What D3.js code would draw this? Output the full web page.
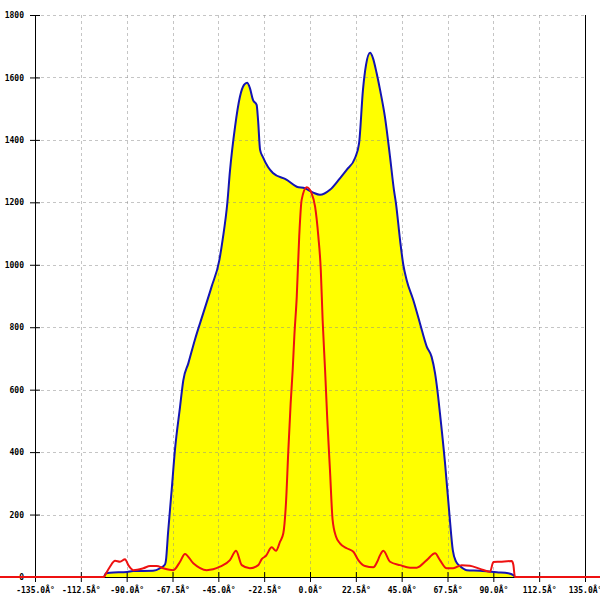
<!DOCTYPE html>
<html>
<head>
<meta charset="utf-8">
<script src="https://cdn.jsdelivr.net/npm/d3@7"></script>
<style>
  html, body { margin: 0; padding: 0; background: #fff; }
  svg { display: block; }
  text { font-family: "DejaVu Sans Mono", monospace; font-size: 8px; font-weight: bold; fill: #000; }
</style>
</head>
<body>
<div id="chart"></div>
<script>
// Angle (degrees) and intensity for the blue (filled) series
const blueAngles = [-101.1,-100.1,-98.2,-89.8,-86.9,-77.1,-73.6,-71.2,-70.7,-69.7,-67.9,-66.3,-63.8,-62.2,-59.7,-56.5,-52.4,-48.3,-44.5,-42.9,-40.6,-39.3,-36.8,-34.4,-32.4,-30.9,-29.5,-28.0,-26.2,-25.5,-24.5,-23.1,-20.6,-18.2,-11.4,-6.5,-2.5,1.6,4.9,9.8,14.7,18.0,22.1,24.1,26.0,27.5,29.5,30.9,32.7,34.4,36.8,39.3,41.2,42.2,44.2,45.8,47.5,50.7,54.0,57.3,59.7,61.4,62.5,63.8,66.3,68.4,70.1,71.7,73.6,76.9,83.5,88.4,91.7,97.3,99.8,100.6];
const blueValues = [0,12,14,16,19,20,28,40,54,140,279,407,545,630,685,760,845,930,1015,1080,1197,1300,1442,1538,1576,1583,1566,1528,1512,1464,1368,1345,1313,1294,1272,1250,1245,1231,1224,1240,1277,1304,1342,1390,1560,1640,1679,1662,1614,1560,1473,1345,1240,1197,1080,1000,950,887,812,738,705,652,600,524,364,204,86,49,35,22,20,17,15,12,6,0];

// Angle (degrees) and intensity for the red series
const redAngles = [-180,-101.1,-100.6,-98.2,-95.7,-93.3,-90.8,-89.2,-86.7,-81.8,-78.5,-75.3,-72.0,-67.1,-63.8,-61.4,-57.3,-50.7,-44.2,-39.3,-36.3,-33.5,-29.5,-25.4,-23.7,-21.6,-18.8,-16.7,-14.7,-13.1,-11.8,-10.7,-9.5,-8.5,-7.7,-6.5,-5.3,-4.1,-1.6,0.8,2.5,4.1,5.3,6.2,7.4,8.5,9.8,11.1,12.8,14.7,18.0,21.3,23.7,27.0,31.1,33.0,34.4,36.0,39.3,44.2,49.1,52.4,57.3,61.4,63.8,67.1,70.3,74.5,78.5,83.5,88.4,90.0,93.3,99.0,99.8,100.6,180];
const redValues = [0,0,6,33,52,49,57,38,22,28,35,35,28,22,49,74,44,22,33,54,84,38,28,38,57,68,95,84,113,140,236,396,556,663,770,898,1090,1208,1248,1229,1186,1090,983,823,663,503,343,183,129,108,92,81,54,35,31,49,70,84,49,38,30,30,54,76,54,28,28,38,36,26,17,48,49,51,40,0,0];

const xTicks = [-135,-112.5,-90,-67.5,-45,-22.5,0,22.5,45,67.5,90,112.5,135];
const yTicks = [0,200,400,600,800,1000,1200,1400,1600,1800];

const W = 600, H = 600;
const svg = d3.select("#chart").append("svg").attr("width", W).attr("height", H);

const x = d3.scaleLinear().domain([-135, 135]).range([35, 585]);
const y = d3.scaleLinear().domain([0, 1800]).range([577, 15]);

const blue = blueAngles.map((a, i) => ({a, v: blueValues[i]}));
const red = redAngles.map((a, i) => ({a, v: redValues[i]}));

// fill
svg.append("path").datum(blue)
  .attr("fill", "#ffff00")
  .attr("d", d3.area().x(d => x(d.a)).y0(y(0)).y1(d => y(d.v)).curve(d3.curveMonotoneX));

// grid
const grid = svg.append("g").attr("stroke", "rgba(140,140,140,0.5)").attr("stroke-dasharray", "3,3").attr("stroke-width", 1);
xTicks.slice(1, -1).forEach(t => {
  grid.append("line").attr("x1", Math.round(x(t)) + 0.5).attr("x2", Math.round(x(t)) + 0.5).attr("y1", y(1800)).attr("y2", y(0));
});
yTicks.slice(1).forEach(t => {
  grid.append("line").attr("x1", x(-135)).attr("x2", x(135)).attr("y1", Math.round(y(t)) + 0.5).attr("y2", Math.round(y(t)) + 0.5);
});

// x axis
const xAxisG = svg.append("g").attr("transform", `translate(0,${y(0)})`)
  .call(d3.axisBottom(x).tickValues(xTicks).tickSize(5).tickPadding(5)
    .tickFormat(d => d.toFixed(1) + "Â°"));
xAxisG.select(".domain").remove();
xAxisG.selectAll(".tick line").attr("y1", -5).attr("stroke", "#000");
xAxisG.selectAll("text").attr("font-size", 8).attr("font-family", "DejaVu Sans Mono").attr("font-weight", "bold").attr("fill", "#000");
svg.append("line").attr("x1", x(-135)).attr("x2", x(135)).attr("y1", y(0) + 0.5).attr("y2", y(0) + 0.5).attr("stroke", "#000");

// y axis
const yAxisG = svg.append("g").attr("transform", `translate(${x(-135)},0)`)
  .call(d3.axisLeft(y).tickValues(yTicks).tickSize(5).tickPadding(6).tickFormat(d3.format("d")));
yAxisG.select(".domain").remove();
yAxisG.selectAll(".tick line").attr("x1", 5).attr("stroke", "#000");
yAxisG.selectAll("text").attr("font-size", 8).attr("font-family", "DejaVu Sans Mono").attr("font-weight", "bold").attr("fill", "#000");

svg.append("line").attr("x1", x(-135) + 0.5).attr("x2", x(-135) + 0.5).attr("y1", y(1800)).attr("y2", y(0) + 5).attr("stroke", "#000");
svg.append("line").attr("x1", x(135) + 0.5).attr("x2", x(135) + 0.5).attr("y1", y(1800)).attr("y2", y(0) + 5).attr("stroke", "#000");

// lines
svg.append("path").datum(blue)
  .attr("fill", "none").attr("stroke", "#1414b4").attr("stroke-width", 2)
  .attr("d", d3.line().x(d => x(d.a)).y(d => y(d.v)).curve(d3.curveMonotoneX));
svg.append("path").datum(red)
  .attr("fill", "none").attr("stroke", "#ee1111").attr("stroke-width", 2)
  .attr("d", d3.line().x(d => x(d.a)).y(d => y(d.v)).curve(d3.curveMonotoneX));
</script>
</body>
</html>
